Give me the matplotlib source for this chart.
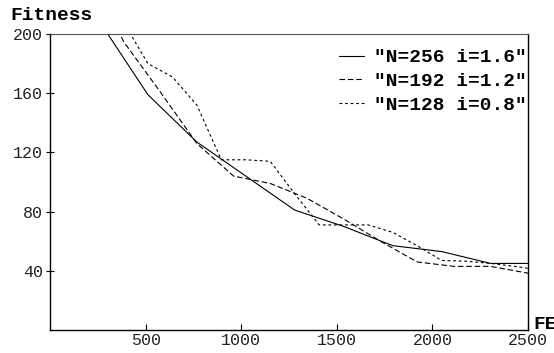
import matplotlib
matplotlib.use("Agg")
import matplotlib.pyplot as plt

# evaluations (FEs) and best fitness for each run
fe_256 = [256, 512, 768, 1024, 1280, 1536, 1792, 2048, 2304, 2560]
fit_256 = [209, 159, 127, 104, 81, 70, 57, 53, 45, 45]

fe_192 = [192, 384, 576, 768, 960, 1152, 1344, 1536, 1728, 1920, 2112, 2304, 2496, 2688]
fit_192 = [250, 195, 161, 126, 104, 99, 89, 75, 60, 46, 43, 43, 38.5, 35]

fe_128 = [256, 384, 512, 640, 768, 896, 1024, 1152, 1280, 1408, 1536, 1664,
          1792, 1920, 2048, 2176, 2304, 2432, 2560]
fit_128 = [235, 208, 180, 171, 152, 115, 115, 114, 92, 71, 71, 71,
           66, 57, 47, 46.5, 45, 43, 40.5]

labels = ['"N=256 i=1.6"', '"N=192 i=1.2"', '"N=128 i=0.8"']
xticks = [500, 1000, 1500, 2000, 2500]
yticks = [40, 80, 120, 160, 200]

fig = plt.figure(figsize=(5.54, 3.53), dpi=100)
ax = fig.add_axes([50 / 554, 23 / 353, 478 / 554, 296 / 353])

ax.plot(fe_256, fit_256, color="black", lw=0.8, label=labels[0])
ax.plot(fe_192, fit_192, color="black", lw=0.8, linestyle=(0, (5, 2.5)), label=labels[1])
ax.plot(fe_128, fit_128, color="black", lw=0.8, linestyle=(0, (2.5, 2.5)), label=labels[2])

ax.set_xlim(0, 2500)
ax.set_ylim(0, 200)
ax.set_xticks(xticks)
ax.set_yticks(yticks)

tick_font = {"family": "Liberation Mono", "size": 12}
ax.set_xticklabels([str(t) for t in xticks], fontdict=tick_font, color="#222222")
ax.set_yticklabels([str(t) for t in yticks], fontdict=tick_font, color="#222222")
ax.tick_params(axis="x", direction="in", length=4, width=0.8, pad=2)
ax.tick_params(axis="y", direction="inout", length=6, width=0.8, pad=2)

for side in ["left", "bottom", "right"]:
    ax.spines[side].set_linewidth(1.0)
ax.spines["top"].set_color("#555555")

bold = {"family": "Liberation Mono", "weight": "bold", "size": 14}
fig.text(10 / 554, 1 - 15 / 353, "Fitness", fontdict=bold, va="center", ha="left")
# x label runs off the right edge, as in the original
fig.text(533 / 554, 20 / 353, "FEs", fontdict=bold, va="bottom", ha="left")

leg = ax.legend(loc="upper right", bbox_to_anchor=(0.998, 0.95), frameon=False, prop=bold,
                handlelength=1.25, handletextpad=0.55, labelspacing=0.32,
                borderaxespad=0, borderpad=0)

fig.savefig("out.png", dpi=100)
